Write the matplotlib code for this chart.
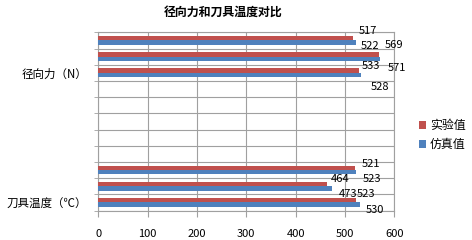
import numpy as np
from matplotlib import pyplot as plt

plt.rcParams['font.family'] = ['Noto Sans CJK SC', 'DejaVu Sans']

title = '径向力和刀具温度对比'
categories = ['', '', '径向力（N）', '', '', '', '', '', '', '', '刀具温度（℃）']
series_names = ['实验值', '仿真值']
experiment = [517, 569, 528, np.nan, np.nan, np.nan, np.nan, np.nan, 521, 464, 523]
simulation = [522, 571, 533, np.nan, np.nan, np.nan, np.nan, np.nan, 523, 473, 530]
xticks = [0, 100, 200, 300, 400, 500, 600]

# manual data label offsets in pixels (dx, dy downward), like the dragged Excel labels
red_offsets = [(15, -7), (15, -9), (21, 16), None, None, None, None, None, (16, -4), (13, -5), (10, -6)]
blue_offsets = [(14, 3), (17, 9), (10, -9), None, None, None, None, None, (16, 7), (16, 6), (15, 5)]

red = '#C0504D'
blue = '#4F81BD'
grid = '#A0A0A0'

fig = plt.figure(figsize=(4.72, 2.40), dpi=100)
ax = fig.add_axes([98.3 / 472, 1 - 210.5 / 240, 296 / 472, 178.2 / 240])

y = np.arange(len(categories))
h = 0.27
ax.barh(y - h / 2, experiment, height=h, color=red, label=series_names[0], zorder=3)
ax.barh(y + h / 2, simulation, height=h, color=blue, label=series_names[1], zorder=3)

for vals, offs, sgn in [(experiment, red_offsets, -1), (simulation, blue_offsets, 1)]:
    for i, (v, o) in enumerate(zip(vals, offs)):
        if o is None or np.isnan(v):
            continue
        ax.annotate(str(v), (v, i + sgn * h / 2), xytext=(o[0], -o[1]),
                    textcoords='offset pixels', ha='center', va='center',
                    fontsize=8, color='black', zorder=4)

ax.set_xlim(0, 600)
ax.set_ylim(len(categories) - 0.5, -0.5)
ax.set_xticks(xticks)
ax.set_xticklabels([str(t) for t in xticks], fontsize=8)
ax.set_yticks(y)
ax.set_yticklabels(categories, fontsize=8.3)
ax.set_yticks(np.arange(len(categories) + 1) - 0.5, minor=True)
ax.tick_params(axis='y', which='major', length=0, pad=8)
ax.tick_params(axis='y', which='minor', length=3, color=grid, direction='out')
ax.tick_params(axis='x', length=4, color=grid, pad=9)
ax.grid(True, axis='x', color=grid, linewidth=0.8, zorder=0)
ax.grid(True, axis='y', which='minor', color=grid, linewidth=0.8, zorder=0)
for s in ax.spines.values():
    s.set_color(grid)
    s.set_linewidth(0.8)

fig.text(223 / 472, 1 - 12 / 240, title, ha='center', va='center',
         fontsize=8.6, fontweight='bold')

fig.legend(loc='center left', bbox_to_anchor=(419 / 472, 1 - 135 / 240),
           frameon=False, fontsize=8.6, handlelength=0.6, handleheight=0.6,
           handletextpad=0.3, labelspacing=0.5, borderaxespad=0, borderpad=0)

fig.savefig('out.png', dpi=100)
